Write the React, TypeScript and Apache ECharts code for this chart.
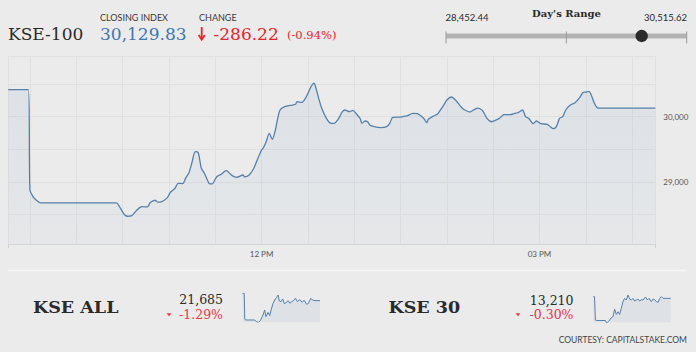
import React, { useEffect, useRef } from "react";
import * as echarts from "echarts";

// ---------- header figures ----------
const indexName = "KSE-100";
const closingIndex = 30129.83;
const changeValue = -286.22;
const changePct = -0.94;
const dayLow = 28452.44;
const dayHigh = 30515.62;

// ---------- main intraday series ----------
const sessionStart = "09:16";
const sessionEnd = "16:15";
const mainTimes = [
  "09:16", "09:29", "09:30", "09:32", "09:34", "09:37", "10:26", "10:28", "10:29", "10:31",
  "10:33", "10:36", "10:38", "10:41", "10:43", "10:46", "10:48", "10:51", "10:53", "10:55",
  "10:59", "11:01", "11:04", "11:06", "11:09", "11:11", "11:13", "11:15", "11:17", "11:19",
  "11:21", "11:23", "11:26", "11:28", "11:31", "11:34", "11:37", "11:38", "11:41", "11:44",
  "11:48", "11:49", "11:52", "11:55", "11:57", "12:00", "12:01", "12:03", "12:05", "12:07",
  "12:09", "12:10", "12:12", "12:15", "12:20", "12:22", "12:23", "12:26", "12:29", "12:32",
  "12:34", "12:35", "12:37", "12:39", "12:42", "12:45", "12:47", "12:50", "12:52", "12:54",
  "12:57", "12:59", "13:02", "13:04", "13:05", "13:07", "13:09", "13:10", "13:13", "13:17",
  "13:21", "13:23", "13:25", "13:30", "13:34", "13:38", "13:41", "13:45", "13:47", "13:48",
  "13:51", "13:54", "13:56", "13:58", "14:00", "14:03", "14:06", "14:10", "14:13", "14:15",
  "14:18", "14:20", "14:23", "14:26", "14:29", "14:31", "14:34", "14:37", "14:41", "14:44",
  "14:46", "14:49", "14:51", "14:53", "14:56", "14:58", "15:01", "15:05", "15:07", "15:09",
  "15:11", "15:13", "15:15", "15:17", "15:20", "15:23", "15:26", "15:28", "15:30", "15:32",
  "15:38", "16:15",
];
const mainValues = [
  30416, 30416, 28880, 28775, 28725, 28679, 28679, 28622, 28582, 28506,
  28475, 28485, 28536, 28607, 28622, 28618, 28684, 28720, 28690, 28694,
  28760, 28843, 28904, 28980, 28975, 29066, 29143, 29302, 29464, 29449,
  29210, 29133, 28980, 28970, 29081, 29118, 29173, 29165, 29097, 29072,
  29107, 29077, 29107, 29210, 29326, 29490, 29516, 29617, 29745, 29654,
  29796, 29923, 30103, 30153, 30179, 30190, 30230, 30220, 30306, 30459,
  30516, 30459, 30281, 30129, 29975, 29899, 29899, 29975, 30067, 30103,
  30077, 30098, 30026, 29965, 29899, 29934, 29914, 29873, 29847, 29832,
  29847, 29899, 29991, 29995, 30011, 30052, 30046, 29975, 29908, 29960,
  30006, 30041, 30110, 30179, 30256, 30302, 30245, 30129, 30087, 30072,
  30113, 30133, 30098, 29975, 29923, 29939, 29975, 30031, 30031, 30052,
  30061, 30103, 30000, 29975, 29893, 29934, 29893, 29883, 29847, 29816,
  29853, 29975, 30000, 30103, 30179, 30214, 30291, 30367, 30378, 30389,
  30130, 30130,
];
const yMin = 28050;
const yMax = 30930;
const yTickLabels = [29000, 30000];
const xTickLabels: Record<string, string> = { "12:00": "12 PM", "15:00": "03 PM" };

// ---------- sub-indices ----------
const kseAllName = "KSE ALL";
const kseAllLast = "21,685";
const kseAllPct = "-1.29%";
const kseAllMinutes = [0, 8, 11, 16, 58, 66, 77, 86, 98, 106, 112, 122, 130, 138, 146, 154, 162, 170, 176, 184, 192, 200, 210, 218, 226, 235, 245, 253, 262, 274, 285, 294, 306, 315, 326, 334, 346, 370];
const kseAllValues = [21968, 21968, 20962, 20936, 20936, 20871, 20846, 20923, 21130, 21323, 21065, 21233, 21104, 21362, 21581, 21710, 21800, 21903, 21671, 21645, 21749, 21568, 21620, 21684, 21581, 21645, 21697, 21775, 21645, 21723, 21620, 21697, 21542, 21581, 21775, 21710, 21684, 21684];

const kse30Name = "KSE 30";
const kse30Last = "13,210";
const kse30Pct = "-0.30%";
const kse30Minutes = [0, 6, 10, 16, 58, 62, 67, 74, 86, 94, 102, 110, 118, 126, 134, 142, 150, 158, 166, 174, 182, 190, 198, 206, 214, 222, 230, 238, 250, 259, 267, 278, 286, 294, 302, 310, 318, 326, 334, 346, 371];
const kse30Values = [13250, 13250, 12690, 12682, 12682, 12634, 12634, 12666, 12746, 12770, 12954, 12826, 12890, 12826, 12970, 13130, 13210, 13170, 13290, 13194, 13170, 13210, 13146, 13170, 13194, 13146, 13178, 13170, 13242, 13170, 13210, 13130, 13194, 13178, 13130, 13114, 13210, 13250, 13210, 13210, 13210];

const courtesy = "COURTESY: CAPITALSTAKE.COM";

// ---------- helpers ----------
const toMin = (s: string) => {
  const [h, m] = s.split(":").map(Number);
  return h * 60 + m;
};
const pad = (n: number) => (n < 10 ? "0" + n : "" + n);
const buildCategories = () => {
  const out: string[] = [];
  for (let m = toMin(sessionStart); m <= toMin(sessionEnd); m++) {
    out.push(pad(Math.floor(m / 60)) + ":" + pad(m % 60));
  }
  return out;
};
const fmt2 = (v: number) =>
  v.toLocaleString("en-US", { minimumFractionDigits: 2, maximumFractionDigits: 2 });

const BG = "#ebebeb";
const LINE = "#5580aa";
const RED = "#e2262d";
const RED2 = "#e8354a";
const DARK = "#2a2a2a";
const SERIF = "'DejaVu Serif', serif";
const SANS = "Lato, 'Noto Sans', sans-serif";

export default function App() {
  const ref = useRef<HTMLDivElement>(null);

  useEffect(() => {
    if (!ref.current) return;
    const chart = echarts.init(ref.current, undefined, { renderer: "svg" });
    const cats = buildCategories();
    const last = cats.length - 1;
    const mainData = mainTimes.map((t, i) => [cats.indexOf(t), mainValues[i]]);
    const sparkAll = kseAllMinutes.map((m, i) => [m, kseAllValues[i]]);
    const spark30 = kse30Minutes.map((m, i) => [m, kse30Values[i]]);

    // day range bar geometry
    const barL = 446;
    const barR = 686.7;
    const barY = 36;
    const dotX = barL + ((closingIndex - dayLow) / (dayHigh - dayLow)) * (barR - barL);

    const areaMain = {
      color: new echarts.graphic.LinearGradient(0, 0, 0, 1, [
        { offset: 0, color: "rgba(120,160,200,0.18)" },
        { offset: 1, color: "rgba(120,160,200,0.07)" },
      ]),
    };

    chart.setOption({
      animation: false,
      backgroundColor: BG,
      grid: [
        { left: 8.3, right: 40.7, top: 56, bottom: 108 },
        { left: 242.5, width: 77.5, top: 293.3, height: 29 },
        { left: 593.3, width: 77.5, top: 295, height: 27.5 },
      ],
      xAxis: [
        {
          type: "category",
          gridIndex: 0,
          data: cats,
          boundaryGap: false,
          axisLine: { show: true, lineStyle: { color: "#d6d6d6", width: 1 } },
          axisTick: {
            show: true,
            interval: (idx: number) => idx === 0 || idx === last,
            length: 4,
            lineStyle: { color: "#d0d0d0" },
          },
          axisLabel: {
            interval: (_idx: number, val: string) => val in xTickLabels,
            formatter: (val: string) => xTickLabels[val] ?? "",
            color: "#555",
            fontFamily: SANS,
            fontSize: 8,
            margin: 6,
          },
          splitLine: {
            show: true,
            interval: (idx: number, val: string) =>
              idx === 0 || idx === last || val.endsWith(":00") || val.endsWith(":30"),
            lineStyle: { color: "#e0e0e0", width: 1 },
          },
        },
        { type: "value", gridIndex: 1, min: "dataMin", max: "dataMax", show: false },
        { type: "value", gridIndex: 2, min: "dataMin", max: "dataMax", show: false },
      ],
      yAxis: [
        {
          type: "value",
          gridIndex: 0,
          position: "right",
          min: yMin,
          max: yMax,
          axisLine: { show: false },
          axisTick: { show: false },
          axisLabel: {
            showMinLabel: false,
            showMaxLabel: false,
            formatter: (v: number) => (yTickLabels.includes(v) ? v.toLocaleString("en-US") : ""),
            color: "#555",
            fontFamily: SANS,
            fontSize: 8,
            margin: 8,
          },
          splitLine: { show: true, lineStyle: { color: "#e0e0e0", width: 1 } },
        },
        { type: "value", gridIndex: 1, min: "dataMin", max: "dataMax", show: false, scale: true },
        { type: "value", gridIndex: 2, min: "dataMin", max: "dataMax", show: false, scale: true },
      ],
      series: [
        {
          type: "line",
          xAxisIndex: 0,
          yAxisIndex: 0,
          data: mainData,
          showSymbol: false,
          symbol: "none",
          smooth: 0.25,
          lineStyle: { color: LINE, width: 1.3 },
          areaStyle: areaMain,
        },
        {
          type: "line",
          xAxisIndex: 1,
          yAxisIndex: 1,
          data: sparkAll,
          symbol: "none",
          lineStyle: { color: LINE, width: 1 },
          areaStyle: { color: "rgba(120,160,200,0.16)" },
        },
        {
          type: "line",
          xAxisIndex: 2,
          yAxisIndex: 2,
          data: spark30,
          symbol: "none",
          lineStyle: { color: LINE, width: 1 },
          areaStyle: { color: "rgba(120,160,200,0.16)" },
        },
      ],
      graphic: [
        // header
        { type: "text", style: { text: indexName, x: 8, y: 33.5, verticalAlign: "middle", fill: DARK, fontFamily: SERIF, fontSize: 17 } },
        { type: "text", style: { text: "CLOSING INDEX", x: 100, y: 17.5, verticalAlign: "middle", fill: "#3a3a3a", fontFamily: SANS, fontSize: 9 } },
        { type: "text", style: { text: fmt2(closingIndex), x: 100, y: 33.5, verticalAlign: "middle", fill: "#3f77b0", fontFamily: SERIF, fontSize: 17 } },
        { type: "text", style: { text: "CHANGE", x: 199, y: 17.5, verticalAlign: "middle", fill: "#3a3a3a", fontFamily: SANS, fontSize: 9 } },
        { type: "line", shape: { x1: 201.7, y1: 27, x2: 201.7, y2: 39 }, style: { stroke: RED, lineWidth: 1.8 } },
        { type: "polyline", shape: { points: [[198.6, 35], [201.7, 39.6], [204.8, 35]] }, style: { stroke: RED, lineWidth: 1.8, fill: null } },
        { type: "text", style: { text: "-" + fmt2(Math.abs(changeValue)), x: 213.5, y: 33.5, verticalAlign: "middle", fill: RED, fontFamily: SERIF, fontSize: 17 } },
        { type: "text", style: { text: "(" + changePct.toFixed(2) + "%)", x: 287, y: 35.3, verticalAlign: "middle", fill: RED, fontFamily: SERIF, fontSize: 11.5 } },
        // day's range
        { type: "text", style: { text: "Day's Range", x: 566.5, y: 13, align: "center", verticalAlign: "middle", fill: DARK, fontFamily: SERIF, fontSize: 10, fontWeight: "bold" } },
        { type: "text", style: { text: fmt2(dayLow), x: 445.5, y: 17, verticalAlign: "middle", fill: DARK, fontFamily: SANS, fontSize: 9.5 } },
        { type: "text", style: { text: fmt2(dayHigh), x: 687, y: 17, align: "right", verticalAlign: "middle", fill: DARK, fontFamily: SANS, fontSize: 9.5 } },
        { type: "rect", shape: { x: barL, y: barY - 2.6, width: barR - barL, height: 5.2 }, style: { fill: "#b3b3b3" } },
        { type: "line", shape: { x1: barL, y1: 31.5, x2: barL, y2: 43.5 }, style: { stroke: "#9a9a9a", lineWidth: 1 } },
        { type: "line", shape: { x1: (barL + barR) / 2, y1: 31.5, x2: (barL + barR) / 2, y2: 43.5 }, style: { stroke: "#9a9a9a", lineWidth: 1 } },
        { type: "line", shape: { x1: barR, y1: 31.5, x2: barR, y2: 43.5 }, style: { stroke: "#9a9a9a", lineWidth: 1 } },
        { type: "circle", shape: { cx: dotX, cy: barY, r: 6.2 }, style: { fill: "#2b2b2b" } },
        // divider
        { type: "line", shape: { x1: 8, y1: 270.5, x2: 686, y2: 270.5 }, style: { stroke: "#f6f6f6", lineWidth: 1.5 } },
        // KSE ALL
        { type: "text", style: { text: kseAllName, x: 33, y: 306.8, verticalAlign: "middle", fill: DARK, fontFamily: SERIF, fontSize: 17.5, fontWeight: "bold" } },
        { type: "text", style: { text: kseAllLast, x: 223, y: 299.7, align: "right", verticalAlign: "middle", fill: DARK, fontFamily: SERIF, fontSize: 12.5 } },
        { type: "text", style: { text: kseAllPct, x: 223, y: 314.5, align: "right", verticalAlign: "middle", fill: RED2, fontFamily: SERIF, fontSize: 12.5 } },
        { type: "polygon", shape: { points: [[166.6, 313.2], [171.4, 313.2], [169, 316.3]] }, style: { fill: RED2 } },
        // KSE 30
        { type: "text", style: { text: kse30Name, x: 388.5, y: 306.8, verticalAlign: "middle", fill: DARK, fontFamily: SERIF, fontSize: 17.5, fontWeight: "bold" } },
        { type: "text", style: { text: kse30Last, x: 573.5, y: 300, align: "right", verticalAlign: "middle", fill: DARK, fontFamily: SERIF, fontSize: 12.5 } },
        { type: "text", style: { text: kse30Pct, x: 573.5, y: 314.7, align: "right", verticalAlign: "middle", fill: RED2, fontFamily: SERIF, fontSize: 12.5 } },
        { type: "polygon", shape: { points: [[515.6, 313.2], [520.4, 313.2], [518, 316.3]] }, style: { fill: RED2 } },
        // courtesy
        { type: "text", style: { text: courtesy, x: 687, y: 339.7, align: "right", verticalAlign: "middle", fill: "#444", fontFamily: SANS, fontSize: 8.5 } },
      ],
    });
    return () => chart.dispose();
  }, []);

  return (
    <div
      ref={ref}
      style={{ position: "fixed", left: 0, top: 0, width: 696, height: 352, background: BG }}
    />
  );
}
